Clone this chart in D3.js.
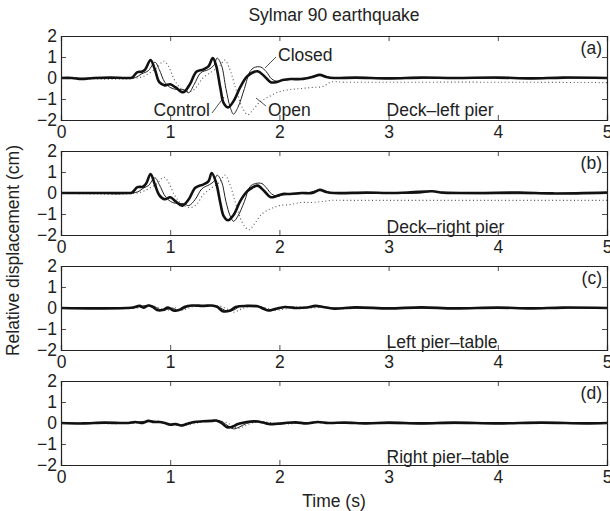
<!DOCTYPE html>
<html>
<head>
<meta charset="utf-8">
<script src="https://cdn.jsdelivr.net/npm/d3@7"></script>
<style>
  html, body { margin: 0; padding: 0; background: #fff; }
  svg { display: block; font-family: "Liberation Sans", Arial, Helvetica, sans-serif; }
</style>
</head>
<body>
<svg id="chart" width="610" height="511"></svg>
<script>
// Relative displacement histories, Sylmar 90 record, four measurement locations.
const xTicks = [0, 1, 2, 3, 4, 5];
const yTicks = [-2, -1, 0, 1, 2];
const panelTags = ["(a)", "(b)", "(c)", "(d)"];
const panelNames = ["Deck\u2013left pier", "Deck\u2013right pier", "Left pier\u2013table", "Right pier\u2013table"];
const seriesNames = ["Open", "Closed", "Control"];

// [time (s), displacement (cm)] knots per series
const deckLeftControl = [[0,0],[0.1,0],[0.19,-0.05],[0.3,0],[0.45,0.02],[0.6,0],[0.65,0.02],[0.7,0.28],[0.74,0.3],[0.77,0.4],[0.82,0.85],[0.86,0.4],[0.9,-0.2],[0.95,-0.35],[1.0,-0.3],[1.05,-0.45],[1.12,-0.68],[1.18,-0.3],[1.24,0.3],[1.3,0.4],[1.35,0.55],[1.39,0.95],[1.42,0.6],[1.46,-0.5],[1.49,-1.2],[1.53,-1.4],[1.58,-1.1],[1.64,-0.45],[1.7,0.05],[1.75,0.25],[1.8,0.32],[1.86,0.1],[1.92,-0.2],[1.97,-0.2],[2.03,-0.1],[2.1,-0.05],[2.2,-0.05],[2.3,0.05],[2.37,0.15],[2.43,0.05],[2.5,0],[2.7,0.02],[3.0,-0.02],[3.3,0.02],[3.6,0],[4.0,0.02],[4.3,-0.02],[4.6,0.02],[5.0,0]];
const deckLeftClosed = [[0,0],[0.6,0],[0.68,0.02],[0.74,0.2],[0.8,0.35],[0.86,0.75],[0.9,0.4],[0.95,-0.2],[1.0,-0.45],[1.06,-0.55],[1.12,-0.55],[1.17,-0.7],[1.22,-0.3],[1.28,0.25],[1.35,0.4],[1.4,0.6],[1.43,0.95],[1.47,0.6],[1.51,-0.5],[1.55,-1.4],[1.58,-1.72],[1.62,-1.4],[1.68,-0.5],[1.73,0.3],[1.77,0.5],[1.83,0.52],[1.88,0.3],[1.93,-0.05],[1.98,-0.15],[2.05,-0.1],[2.15,-0.05],[2.25,0],[2.33,0.1],[2.4,0.12],[2.46,0.02],[2.6,0],[5,0]];
const deckLeftOpen = [[0,0],[0.7,0],[0.8,0.2],[0.88,0.5],[0.94,0.8],[0.98,0.6],[1.04,-0.1],[1.1,-0.5],[1.17,-0.65],[1.22,-0.55],[1.3,0],[1.38,0.3],[1.45,0.55],[1.5,0.85],[1.54,0.5],[1.6,-0.5],[1.66,-1.4],[1.71,-1.75],[1.76,-1.5],[1.82,-1.15],[1.9,-0.9],[2.0,-0.65],[2.1,-0.55],[2.2,-0.5],[2.3,-0.45],[2.4,-0.4],[2.47,-0.2],[2.6,-0.2],[3,-0.2],[4,-0.2],[5,-0.22]];

const deckRightControl = [[0,0],[0.3,0],[0.6,0],[0.65,0.02],[0.7,0.28],[0.75,0.3],[0.78,0.45],[0.82,0.9],[0.86,0.4],[0.9,-0.1],[0.95,-0.3],[1.0,-0.2],[1.05,-0.4],[1.11,-0.6],[1.17,-0.3],[1.23,0.25],[1.3,0.4],[1.35,0.55],[1.38,0.95],[1.42,0.5],[1.46,-0.5],[1.49,-1.1],[1.53,-1.3],[1.58,-1.05],[1.64,-0.4],[1.7,0.05],[1.75,0.25],[1.8,0.35],[1.86,0.1],[1.92,-0.2],[1.97,-0.15],[2.03,-0.05],[2.1,-0.05],[2.2,0],[2.3,0],[2.37,0.15],[2.43,0.05],[2.5,0],[2.8,0.02],[3.0,0],[3.2,0.03],[3.4,0.08],[3.5,0.02],[3.8,0],[4.2,0.02],[4.5,-0.02],[5,0.02]];
const deckRightClosed = [[0,0],[0.62,0],[0.7,0.05],[0.76,0.25],[0.8,0.35],[0.86,0.72],[0.9,0.4],[0.96,-0.2],[1.02,-0.45],[1.08,-0.5],[1.12,-0.5],[1.17,-0.6],[1.23,-0.3],[1.29,0.2],[1.36,0.4],[1.4,0.55],[1.43,0.85],[1.47,0.55],[1.51,-0.4],[1.55,-1.1],[1.58,-1.35],[1.62,-1.1],[1.68,-0.4],[1.73,0.3],[1.78,0.45],[1.84,0.45],[1.88,0.25],[1.93,-0.05],[1.98,-0.15],[2.05,-0.08],[2.15,-0.05],[2.25,0],[2.33,0.1],[2.4,0.12],[2.46,0.02],[2.6,0],[3.3,0],[3.4,0.08],[3.5,0],[5,0]];
const deckRightOpen = [[0,0],[0.7,0],[0.8,0.2],[0.88,0.45],[0.94,0.75],[0.98,0.55],[1.04,-0.1],[1.1,-0.5],[1.18,-0.7],[1.24,-0.55],[1.3,-0.1],[1.38,0.25],[1.45,0.5],[1.5,0.85],[1.54,0.5],[1.6,-0.5],[1.66,-1.4],[1.72,-1.75],[1.78,-1.4],[1.84,-1.0],[1.92,-0.75],[2.0,-0.6],[2.1,-0.55],[2.2,-0.45],[2.3,-0.45],[2.4,-0.4],[2.48,-0.35],[2.6,-0.35],[3,-0.35],[4,-0.35],[5,-0.35]];

const leftPierControl = [[0,0],[0.3,-0.02],[0.6,0],[0.66,0.02],[0.72,0.1],[0.76,0.02],[0.8,0.12],[0.84,0.05],[0.88,-0.1],[0.93,-0.1],[0.98,0.02],[1.03,-0.12],[1.08,-0.1],[1.13,0.05],[1.2,0.12],[1.3,0.1],[1.38,0.12],[1.43,0.05],[1.48,-0.15],[1.55,-0.12],[1.6,0.05],[1.7,0.1],[1.8,0.08],[1.86,-0.05],[1.9,-0.12],[1.96,-0.05],[2.05,0.05],[2.15,0],[2.25,0.02],[2.33,0.1],[2.4,0.05],[2.5,-0.03],[2.7,0.03],[3.0,-0.02],[3.3,0.03],[3.6,-0.02],[4.0,0.02],[4.3,-0.02],[4.6,0.02],[5,0]];
const leftPierClosed = [[0,0],[0.65,0],[0.7,0.05],[0.78,0.12],[0.83,0.12],[0.88,0],[0.93,-0.12],[0.98,-0.05],[1.02,0],[1.07,-0.12],[1.12,-0.05],[1.18,0.1],[1.25,0.1],[1.35,0.12],[1.42,0.1],[1.48,-0.05],[1.52,-0.15],[1.58,-0.1],[1.65,0.1],[1.75,0.1],[1.83,0.05],[1.9,-0.1],[1.95,-0.1],[2.02,0.02],[2.1,0.05],[2.2,0],[2.3,0.05],[2.36,0.1],[2.45,0],[2.6,0],[5,0]];
const leftPierOpen = [[0,0],[0.7,0],[0.78,0.1],[0.85,0.1],[0.92,-0.05],[0.98,-0.1],[1.05,0],[1.1,-0.12],[1.17,0],[1.25,0.12],[1.35,0.1],[1.45,0.1],[1.52,-0.05],[1.58,-0.2],[1.65,-0.05],[1.75,0.1],[1.85,0.05],[1.95,-0.1],[2.05,-0.05],[2.15,0.05],[2.3,0],[2.4,0.05],[2.5,-0.02],[3,0],[5,0]];

const rightPierControl = [[0,0],[0.2,-0.02],[0.4,0.02],[0.6,0],[0.68,0.05],[0.75,0],[0.8,0.1],[0.85,0.05],[0.9,0.05],[0.95,0],[1.0,-0.08],[1.05,-0.05],[1.1,-0.12],[1.15,-0.05],[1.22,0.05],[1.3,0.08],[1.38,0.1],[1.42,0.12],[1.47,0],[1.52,-0.2],[1.57,-0.18],[1.62,-0.05],[1.7,0.05],[1.78,0.08],[1.85,0.02],[1.9,-0.05],[1.95,-0.05],[2.05,0],[2.15,0.03],[2.25,-0.02],[2.35,0.05],[2.45,0],[2.6,0.02],[2.8,-0.02],[3.0,0.02],[3.3,-0.02],[3.6,0.02],[4.0,-0.02],[4.4,0.02],[4.8,-0.02],[5,0]];
const rightPierClosed = [[0,0],[0.65,0],[0.72,0.05],[0.8,0.1],[0.86,0.08],[0.92,0.02],[1.0,-0.05],[1.08,-0.1],[1.14,-0.1],[1.2,0.02],[1.3,0.08],[1.4,0.12],[1.46,0.1],[1.52,-0.1],[1.58,-0.28],[1.63,-0.2],[1.7,-0.02],[1.8,0.05],[1.88,0.02],[1.95,-0.08],[2.02,-0.05],[2.1,0.02],[2.2,0],[2.35,0.05],[2.45,0],[5,0]];
const rightPierOpen = [[0,0],[0.7,0],[0.8,0.1],[0.9,0.05],[1.0,-0.05],[1.1,-0.12],[1.2,-0.05],[1.3,0.05],[1.4,0.1],[1.5,0.05],[1.56,-0.1],[1.62,-0.25],[1.68,-0.15],[1.75,0],[1.85,0.05],[1.95,0],[2.05,-0.05],[2.2,0],[5,0]];

const panelSeries = [
  [deckLeftOpen, deckLeftClosed, deckLeftControl],
  [deckRightOpen, deckRightClosed, deckRightControl],
  [leftPierOpen, leftPierClosed, leftPierControl],
  [rightPierOpen, rightPierClosed, rightPierControl]
];

// Layout
const left = 61, right = 607;
const firstTop = 36, panelH = 84, panelStep = 115;
const fontSize = 17.5;

const svg = d3.select("#chart");
const x = d3.scaleLinear().domain([0, 5]).range([left, right]);

const styles = {
  Open:    { stroke: "#555", width: 1.1, dash: "1,2.6" },
  Closed:  { stroke: "#222", width: 1.0, dash: null },
  Control: { stroke: "#111", width: 2.6, dash: null }
};

svg.append("text")
  .attr("x", (left + right) / 2).attr("y", 21)
  .attr("text-anchor", "middle").attr("font-size", fontSize).attr("fill", "#222")
  .text("Sylmar 90 earthquake");

panelSeries.forEach((series, i) => {
  const top = firstTop + i * panelStep, bottom = top + panelH;
  const y = d3.scaleLinear().domain([-2, 2]).range([bottom, top]);
  const g = svg.append("g");

  const clipId = "clip" + i;
  g.append("clipPath").attr("id", clipId).append("rect")
    .attr("x", left).attr("y", top).attr("width", right - left).attr("height", panelH);

  const line = d3.line().x(d => x(d[0])).y(d => y(d[1])).curve(d3.curveCatmullRom.alpha(0.5));
  const lines = g.append("g").attr("clip-path", `url(#${clipId})`);
  series.forEach((data, k) => {
    const s = styles[seriesNames[k]];
    lines.append("path").datum(data)
      .attr("d", line).attr("fill", "none")
      .attr("stroke", s.stroke).attr("stroke-width", s.width)
      .attr("stroke-dasharray", s.dash)
      .attr("stroke-linejoin", "round");
  });

  // axes with inward ticks on all four sides
  const tickLen = 5;
  const axB = g.append("g").attr("transform", `translate(0,${bottom})`)
    .call(d3.axisBottom(x).tickValues(xTicks).tickSize(-tickLen).tickPadding(6).tickFormat(d3.format("d")));
  const axT = g.append("g").attr("transform", `translate(0,${top})`)
    .call(d3.axisTop(x).tickValues(xTicks).tickSize(-tickLen).tickFormat(""));
  const axL = g.append("g").attr("transform", `translate(${left},0)`)
    .call(d3.axisLeft(y).tickValues(yTicks).tickSize(-tickLen).tickPadding(4)
      .tickFormat(d => d < 0 ? "\u2212" + Math.abs(d) : d));
  const axR = g.append("g").attr("transform", `translate(${right},0)`)
    .call(d3.axisRight(y).tickValues(yTicks).tickSize(-tickLen).tickFormat(""));
  [axB, axT, axL, axR].forEach(a => {
    a.select(".domain").attr("stroke", "#222").attr("stroke-width", 1.2);
    a.selectAll(".tick line").attr("stroke", "#222").attr("stroke-width", 0.8);
    a.selectAll("text").attr("font-size", fontSize).attr("fill", "#222")
      .attr("font-family", "Liberation Sans, Arial, sans-serif");
  });

  g.append("text").attr("x", right - 5).attr("y", top + 18)
    .attr("text-anchor", "end").attr("font-size", fontSize).attr("fill", "#222")
    .text(panelTags[i]);
  g.append("text").attr("x", x(3) - 2).attr("y", bottom - (i === 0 ? 4 : 2))
    .attr("font-size", fontSize).attr("fill", "#222")
    .text(panelNames[i]);

  if (i === 0) {
    const ann = [
      { label: "Closed",  tx: 278, ty: 61,  anchor: "start", l: [276, 57, 265, 68] },
      { label: "Control", tx: 210, ty: 116, anchor: "end",   l: [212, 113, 224, 97] },
      { label: "Open",    tx: 268, ty: 116, anchor: "start", l: [266, 106, 256, 98] }
    ];
    ann.forEach(a => {
      g.append("line").attr("x1", a.l[0]).attr("y1", a.l[1]).attr("x2", a.l[2]).attr("y2", a.l[3])
        .attr("stroke", "#222").attr("stroke-width", 0.8);
      g.append("text").attr("x", a.tx).attr("y", a.ty).attr("text-anchor", a.anchor)
        .attr("font-size", fontSize).attr("fill", "#222").text(a.label);
    });
  }
});

svg.append("text")
  .attr("transform", `translate(19,${firstTop + (3 * panelStep + panelH) / 2}) rotate(-90)`)
  .attr("text-anchor", "middle").attr("font-size", fontSize).attr("fill", "#222")
  .text("Relative displacement (cm)");

svg.append("text")
  .attr("x", (left + right) / 2).attr("y", 507)
  .attr("text-anchor", "middle").attr("font-size", fontSize).attr("fill", "#222")
  .text("Time (s)");
</script>
</body>
</html>
